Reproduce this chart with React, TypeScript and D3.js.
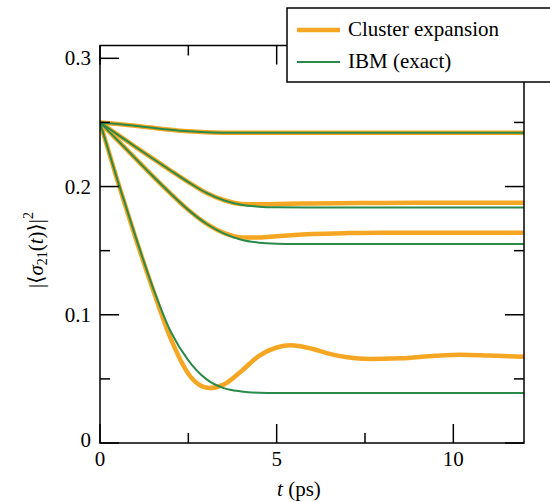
import React from "react";
import * as d3 from "d3";

const W = 550;
const H = 502;

// x ticks
const xMajor = [0, 5, 10];
const xMinor = [2.5, 7.5];
const yMajor = [0, 0.1, 0.2, 0.3];
const yMinor = [0.05, 0.15, 0.25];
const yTickLabels = ["0", "0.1", "0.2", "0.3"];

// Pair 1 (weakest coupling) – both methods coincide
const t1 = [0, 0.5, 1, 1.5, 2, 2.5, 3, 3.5, 4, 12];
const ibm1 = [0.25, 0.2488, 0.2474, 0.2458, 0.2443, 0.2431, 0.2423, 0.242, 0.2419, 0.2419];
const ce1 = [0.25, 0.2488, 0.2474, 0.2458, 0.2443, 0.2431, 0.2423, 0.242, 0.2419, 0.2419];

// Pair 2
const t2 = [0, 0.5, 1, 1.5, 2, 2.5, 3, 3.5, 4, 4.5, 5, 6, 8, 10, 12];
const ibm2 = [0.25, 0.2405, 0.231, 0.2217, 0.2125, 0.2035, 0.1952, 0.1893, 0.1858, 0.1843, 0.1838, 0.1836, 0.1836, 0.1836, 0.1836];
const ce2 = [0.25, 0.2405, 0.231, 0.2217, 0.2125, 0.2035, 0.1952, 0.1895, 0.1864, 0.1861, 0.1864, 0.1868, 0.1872, 0.1873, 0.1873];

// Pair 3
const t3 = [0, 0.5, 1, 1.5, 2, 2.5, 3, 3.5, 4, 4.5, 5, 5.5, 6, 7, 8, 10, 12];
const ibm3 = [0.25, 0.236, 0.222, 0.208, 0.1945, 0.1818, 0.1712, 0.1635, 0.1585, 0.1562, 0.1554, 0.1552, 0.1551, 0.1551, 0.1551, 0.1551, 0.1551];
const ce3 = [0.25, 0.236, 0.222, 0.208, 0.1945, 0.1818, 0.1712, 0.1638, 0.1603, 0.1602, 0.1613, 0.1623, 0.163, 0.1637, 0.164, 0.164, 0.164];

// Pair 4 (strongest coupling)
const t4ibm = [0, 0.5, 1, 1.5, 2, 2.5, 3, 3.5, 4, 4.5, 5, 6, 12];
const ibm4 = [0.25, 0.2045, 0.1615, 0.121, 0.087, 0.0645, 0.05, 0.0428, 0.0402, 0.0392, 0.039, 0.039, 0.039];
const t4ce = [0, 0.5, 1, 1.5, 2, 2.5, 2.8, 3.1, 3.5, 4, 4.5, 5, 5.4, 6, 6.5, 7, 7.6, 8.5, 9.5, 10.2, 11, 12];
const ce4 = [0.25, 0.204, 0.1605, 0.1195, 0.0815, 0.054, 0.0455, 0.0428, 0.0455, 0.056, 0.068, 0.0745, 0.0762, 0.0735, 0.0695, 0.0668, 0.0655, 0.066, 0.068, 0.0688, 0.0682, 0.0672];

const legendLabels = ["Cluster expansion", "IBM (exact)"];
const ORANGE = "#f5a623";
const GREEN = "#2a8a4a";
const FONT = '"Liberation Serif", "Times New Roman", Times, "DejaVu Serif", serif';

export default function App() {
  const left = 100, right = 524, top = 45.5, bottom = 443;
  const x = d3.scaleLinear().domain([0, 12]).range([left, right]);
  const y = d3.scaleLinear().domain([0, 0.31]).range([bottom, top]);
  const line = d3
    .line<[number, number]>()
    .x((d) => x(d[0]))
    .y((d) => y(d[1]))
    .curve(d3.curveMonotoneX);
  const zip = (ts: number[], vs: number[]) => ts.map((t, i) => [t, vs[i]] as [number, number]);

  const ceSeries = [zip(t1, ce1), zip(t2, ce2), zip(t3, ce3), zip(t4ce, ce4)];
  const ibmSeries = [zip(t1, ibm1), zip(t2, ibm2), zip(t3, ibm3), zip(t4ibm, ibm4)];

  const major = 19, minor = 10;
  const tickStroke = { stroke: "#000", strokeWidth: 1.5 };
  const txt = { fontFamily: FONT, fontSize: "21px" } as React.CSSProperties;

  return (
    <svg width={W} height={H} style={{ display: "block", position: "absolute", left: 0, top: 0 }}>
      <rect x={0} y={0} width={W} height={H} fill="#fff" />
      <defs>
        <clipPath id="plot">
          <rect x={left} y={top} width={right - left} height={bottom - top} />
        </clipPath>
      </defs>
      <g clipPath="url(#plot)">
        {ceSeries.map((s, i) => (
          <path key={"ce" + i} d={line(s) || ""} fill="none" stroke={ORANGE} strokeWidth={4.5} strokeLinejoin="round" />
        ))}
        {ibmSeries.map((s, i) => (
          <path key={"ibm" + i} d={line(s) || ""} fill="none" stroke={GREEN} strokeWidth={2} strokeLinejoin="round" />
        ))}
      </g>
      {/* frame */}
      <rect x={left} y={top} width={right - left} height={bottom - top} fill="none" stroke="#000" strokeWidth={1.5} />
      {/* x ticks */}
      {xMajor.map((t) => (
        <g key={"xM" + t}>
          <line x1={x(t)} x2={x(t)} y1={bottom} y2={bottom - major} {...tickStroke} />
          <line x1={x(t)} x2={x(t)} y1={top} y2={top + major} {...tickStroke} />
          <text x={x(t)} y={466} textAnchor="middle" style={txt}>{t}</text>
        </g>
      ))}
      {xMinor.map((t) => (
        <g key={"xm" + t}>
          <line x1={x(t)} x2={x(t)} y1={bottom} y2={bottom - minor} {...tickStroke} />
          <line x1={x(t)} x2={x(t)} y1={top} y2={top + minor} {...tickStroke} />
        </g>
      ))}
      {/* y ticks */}
      {yMajor.map((v, i) => (
        <g key={"yM" + v}>
          <line x1={left} x2={left + major} y1={y(v)} y2={y(v)} {...tickStroke} />
          <line x1={right} x2={right - major} y1={y(v)} y2={y(v)} {...tickStroke} />
          <text x={91} y={y(v) + (i === 0 ? 4 : 7)} textAnchor="end" style={txt}>{yTickLabels[i]}</text>
        </g>
      ))}
      {yMinor.map((v) => (
        <g key={"ym" + v}>
          <line x1={left} x2={left + minor} y1={y(v)} y2={y(v)} {...tickStroke} />
          <line x1={right} x2={right - minor} y1={y(v)} y2={y(v)} {...tickStroke} />
        </g>
      ))}
      {/* axis labels */}
      <text x={299} y={496} textAnchor="middle" style={txt}>
        <tspan fontStyle="italic">t</tspan>
        <tspan> (ps)</tspan>
      </text>
      <text transform="translate(43,250) rotate(-90)" textAnchor="middle" style={txt}>
        <tspan>|⟨</tspan>
        <tspan fontStyle="italic">σ</tspan>
        <tspan style={{ fontSize: "14px" }} dy={4}>21</tspan>
        <tspan dy={-4}>(</tspan>
        <tspan fontStyle="italic">t</tspan>
        <tspan>)⟩|</tspan>
        <tspan style={{ fontSize: "14px" }} dy={-10}>2</tspan>
      </text>
      {/* legend */}
      <rect x={287} y={8} width={280} height={74} fill="#fff" stroke="#000" strokeWidth={1.5} />
      <line x1={297} x2={340} y1={30} y2={30} stroke={ORANGE} strokeWidth={4.5} />
      <line x1={297} x2={340} y1={62} y2={62} stroke={GREEN} strokeWidth={2} />
      <text x={348} y={36} style={txt}>{legendLabels[0]}</text>
      <text x={348} y={68} style={txt}>{legendLabels[1]}</text>
    </svg>
  );
}
